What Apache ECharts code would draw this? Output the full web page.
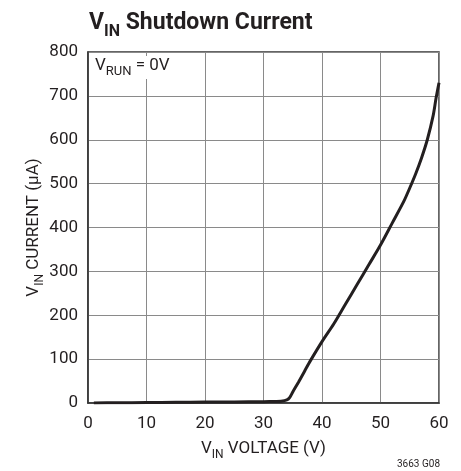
<!DOCTYPE html>
<html>
<head>
<meta charset="utf-8">
<script src="https://cdn.jsdelivr.net/npm/echarts@6/dist/echarts.min.js"></script>
<style>
  html, body { margin: 0; padding: 0; background: #fff; }
  #chart { width: 461px; height: 471px; }
</style>
</head>
<body>
<div id="chart"></div>
<script>
// V_IN shutdown current vs V_IN voltage
const vinVoltage = [1, 5, 10, 15, 20, 25, 30, 32, 33, 34, 34.5, 35, 36, 37, 38, 40, 42, 44, 46, 48, 50, 52, 54, 55, 56, 57, 58, 59, 59.5, 60];
const vinCurrent = [0, 0.5, 1, 1.5, 2, 2.5, 3, 3.5, 4, 7, 13, 25, 48, 72, 96, 140, 180, 225, 270, 315, 360, 410, 460, 490, 522, 558, 600, 655, 695, 730];
const xTicks = [0, 10, 20, 30, 40, 50, 60];
const yTicks = [0, 100, 200, 300, 400, 500, 600, 700, 800];

const FONT = "'Liberation Sans Narrow', 'Roboto', sans-serif";
const INK = '#231f20';

const chart = echarts.init(document.getElementById('chart'));

const points = vinVoltage.map((v, i) => [v, vinCurrent[i]]);

chart.setOption({
  animation: false,
  backgroundColor: '#fff',
  title: {
    text: '{v|V}{s|IN}{v| Shutdown Current}',
    left: 84,
    top: 7,
    textStyle: {
      rich: {
        v: { fontFamily: FONT, fontSize: 23, fontWeight: 'bold', color: INK, verticalAlign: 'bottom', padding: [0, 0, 5, 0] },
        s: { fontFamily: FONT, fontSize: 16, fontWeight: 'bold', color: INK, verticalAlign: 'bottom' }
      }
    }
  },
  grid: {
    left: 88, right: 22, top: 52, bottom: 68,
    show: true,
    borderColor: '#333',
    borderWidth: 1.5
  },
  xAxis: {
    type: 'value',
    min: 0, max: 60, interval: 10,
    name: '{v|V}{s|IN}{v| VOLTAGE (V)}',
    nameLocation: 'middle',
    nameGap: 37,
    nameTextStyle: {
      rich: {
        v: { fontFamily: FONT, fontSize: 17, color: INK, verticalAlign: 'bottom', padding: [0, 0, 4, 0] },
        s: { fontFamily: FONT, fontSize: 12, color: INK, verticalAlign: 'bottom' }
      }
    },
    axisLine: { show: true, lineStyle: { color: '#333', width: 1.5 } },
    axisTick: { show: false },
    axisLabel: {
      fontFamily: FONT, fontSize: 17, color: INK, margin: 12,
      formatter: v => xTicks.includes(v) ? String(v) : ''
    },
    splitLine: { show: true, lineStyle: { color: '#8a8a8a', width: 1 } }
  },
  yAxis: {
    type: 'value',
    min: 0, max: 800, interval: 100,
    name: '{v|V}{s|IN}{v| CURRENT (μA)}',
    nameLocation: 'middle',
    nameGap: 42,
    nameRotate: 90,
    nameMoveOverlap: false,
    nameTextStyle: {
      rich: {
        v: { fontFamily: FONT, fontSize: 17, color: INK, verticalAlign: 'bottom', padding: [0, 0, 4, 0] },
        s: { fontFamily: FONT, fontSize: 12, color: INK, verticalAlign: 'bottom' }
      }
    },
    axisLine: { show: true, lineStyle: { color: '#333', width: 1.5 } },
    axisTick: { show: false },
    axisLabel: {
      fontFamily: FONT, fontSize: 17, color: INK, margin: 10,
      formatter: v => yTicks.includes(v) ? String(v) : ''
    },
    splitLine: { show: true, lineStyle: { color: '#8a8a8a', width: 1 } }
  },
  graphic: [
    {
      type: 'text',
      left: 93, top: 56,
      z: 100,
      style: {
        text: '{v|V}{s|RUN}{v| = 0V}',
        backgroundColor: '#fff',
        padding: [1, 2, 1, 2],
        rich: {
          v: { fontFamily: FONT, fontSize: 17, fill: INK, verticalAlign: 'bottom', padding: [0, 0, 4, 0] },
          s: { fontFamily: FONT, fontSize: 13, fill: INK, verticalAlign: 'bottom' }
        }
      }
    },
    {
      type: 'text',
      right: 21, top: 459,
      style: { text: '3663 G08', fontFamily: FONT, fontSize: 10, fill: INK }
    }
  ],
  series: [{
    type: 'line',
    data: points,
    smooth: 0.3,
    showSymbol: false,
    z: 10,
    lineStyle: { color: INK, width: 3 }
  }]
});
</script>
</body>
</html>
